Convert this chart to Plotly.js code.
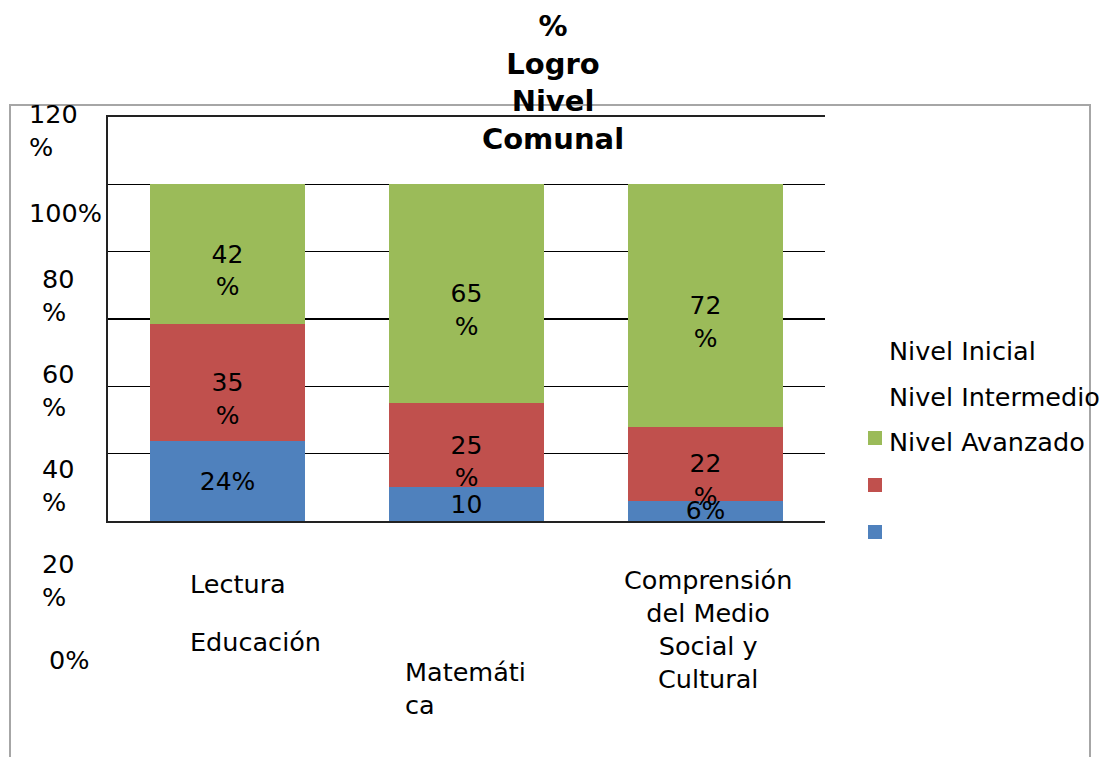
<!DOCTYPE html>
<html>
<head>
<meta charset="utf-8">
<script src="https://cdn.plot.ly/plotly-3.0.1.min.js"></script>
<style>html,body{margin:0;padding:0;background:#fff;}#chart{width:1105px;height:757px;}</style>
</head>
<body>
<div id="chart"></div>
<script>
// ---- data ----
var categories = ["Lectura Educación", "Matemática", "Comprensión del Medio Social y Cultural"];
var seriesNames = ["Nivel Inicial", "Nivel Intermedio", "Nivel Avanzado"];
var inicial = [24, 10, 6];
var intermedio = [35, 25, 22];
var avanzado = [42, 65, 72];
var inicialLabels = ["24%", " <br>10<br>%", "6%"];
var intermedioLabels = [" <br>35<br>%", " <br>25<br>%", " <br>22<br>%"];
var avanzadoLabels = [" <br>42<br>%", " <br>65<br>%", " <br>72<br>%"];
var yTickLabels = ["120<br>%", "100%", "80<br>%", "60<br>%", "40<br>%", "20<br>%", "0%"];
var xLabelBlocks = ["Lectura", "Educación", "Matemáti<br>ca", "Comprensión<br>del Medio<br>Social y<br>Cultural"];
var titleText = "%<br>Logro<br>Nivel<br>Comunal";

// ---- layout helpers (pixel -> paper) ----
var W = 1105, H = 757;
var L = 108, R = 825, T = 117, B = 521;
function px(x){ return (x - L) / (R - L); }
function py(y){ return (B - y) / (B - T); }

var colors = ["#4F81BD", "#C0504D", "#9BBB59"];
var FONT = "DejaVu Sans, Verdana, sans-serif";
var FS = 25.5;

function barTrace(vals, labels, i){
  return {
    type: "bar", x: categories, y: vals, name: seriesNames[i],
    marker: {color: colors[i], line: {width: 0}},
    text: labels, textposition: "inside", insidetextanchor: "middle",
    textangle: 0, constraintext: "none", cliponaxis: true,
    textfont: {family: FONT, size: 25, color: "#000"},
    hoverinfo: "skip", showlegend: false
  };
}
var data = [
  barTrace(inicial, inicialLabels, 0),
  barTrace(intermedio, intermedioLabels, 1),
  barTrace(avanzado, avanzadoLabels, 2)
];

var ann = [];
function txt(t, x, y, xa, align){
  ann.push({text: t, xref: "paper", yref: "paper", x: px(x), y: py(y),
    xanchor: xa, yanchor: "middle", align: align || "left", showarrow: false,
    font: {family: FONT, size: FS, color: "#000"}});
}
// y tick labels (as placed in the reference)
var tickPos = [[27,130],[27,213],[40,295],[40,390],[40,485],[40,580],[47,660]];
yTickLabels.forEach(function(t,i){ txt(t, tickPos[i][0], tickPos[i][1], "left"); });
// category labels
txt(xLabelBlocks[0], 188, 584, "left");
txt(xLabelBlocks[1], 188, 642, "left");
txt(xLabelBlocks[2], 403, 688, "left");
txt(xLabelBlocks[3], 708, 629, "center", "center");
// legend texts
var legY = [351, 397, 442];
seriesNames.forEach(function(n,i){ txt(n, 887, legY[i], "left"); });

var shapes = [
  {type: "rect", xref: "paper", yref: "paper", x0: px(10), x1: px(1090), y0: py(105), y1: py(790),
   line: {color: "#a6a6a6", width: 2}, fillcolor: "rgba(0,0,0,0)", layer: "below"}
];
// legend swatches (order as drawn in reference: green, red, blue)
var swY = [[431,445,2],[478,492,1],[525,539,0]];
swY.forEach(function(s){
  shapes.push({type: "rect", xref: "paper", yref: "paper", x0: px(868), x1: px(882), y0: py(s[1]), y1: py(s[0]),
    line: {width: 0}, fillcolor: colors[s[2]]});
});

var layout = {
  width: W, height: H,
  margin: {l: L, r: W - R, t: T, b: H - B, pad: 0},
  paper_bgcolor: "#fff", plot_bgcolor: "#fff",
  barmode: "stack", barnorm: "percent", bargap: 0.35,
  showlegend: false,
  font: {family: FONT, size: FS, color: "#000"},
  title: {text: "<b>" + titleText + "</b>", x: 553 / W, xref: "container", xanchor: "center",
          y: 1 - 36 / H, yref: "container", yanchor: "middle",
          font: {family: FONT, size: 29, color: "#000"}},
  xaxis: {type: "category", showticklabels: false, ticks: "", showgrid: false,
          showline: true, mirror: true, linecolor: "#222", linewidth: 2, zeroline: false},
  yaxis: {range: [0, 120], dtick: 20, showticklabels: false, ticks: "",
          showgrid: true, gridcolor: "#000", gridwidth: 1.5, zeroline: false,
          showline: true, linecolor: "#222", linewidth: 2},
  annotations: ann,
  shapes: shapes
};

Plotly.newPlot("chart", data, layout, {staticPlot: true, displayModeBar: false});
</script>
</body>
</html>
